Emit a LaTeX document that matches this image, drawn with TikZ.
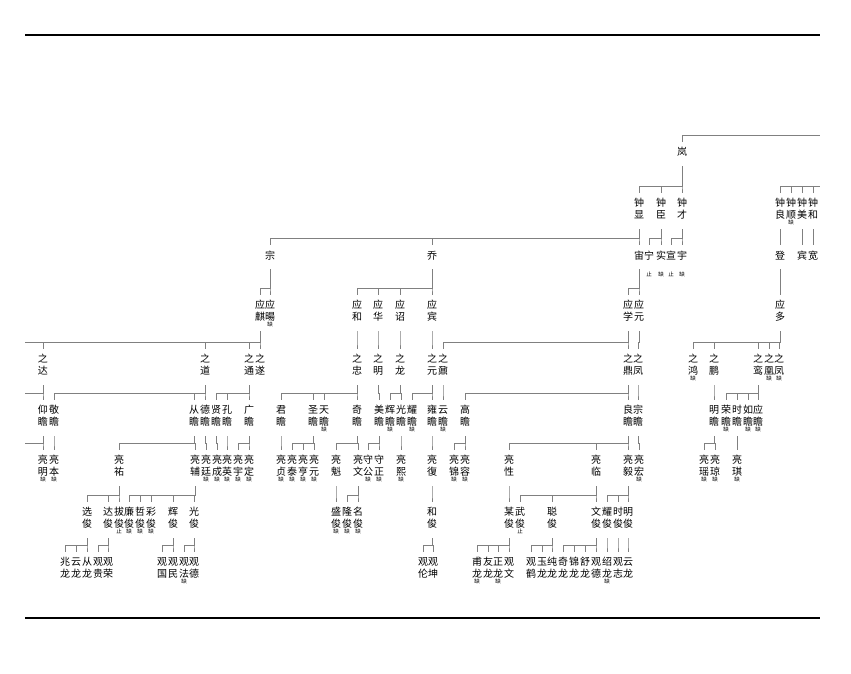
\documentclass[tikz,border=0pt]{standalone}
\usepackage{fontspec}
\newfontfamily\cjk{Noto Sans CJK SC}
\newcommand\nfnt{\fontsize{5.5}{6}\selectfont}
\newcommand\cjcell[1]{\hbox to 12pt{\hss\vrule height 10pt depth 2pt width 0pt\relax#1\hss}}
\newcommand\vtwo[3]{\vbox to 30pt{\offinterlineskip\cjcell{#1}\cjcell{#2}\hbox to 12pt{\hss\nfnt#3\hss}\vss}}
\newcommand\vone[1]{\vbox to 16pt{\offinterlineskip\cjcell{#1}\vss}}
\newcommand\TW[4]{\node[two] (#1) at (#2,#3) {\vtwo#4};}
\newcommand\ON[4]{\node[one] (#1) at (#2,#3) {\vone{#4}};}
\newcommand\kin[2]{\foreach \kidn in {#2}{\draw[conn] (#1.south) |- ([yshift=7pt]\kidn.north) -- (\kidn.north);}}
\tikzset{
  two/.style={inner sep=0pt, outer xsep=0pt, outer ysep=3pt, anchor=north, font=\cjk\fontsize{10}{12}\selectfont},
  one/.style={inner sep=0pt, outer xsep=0pt, outer ysep=4pt, anchor=north, font=\cjk\fontsize{10}{12}\selectfont},
  note/.style={inner sep=0pt, font=\cjk\nfnt},
  conn/.style={draw=black!50, line width=0.9pt},
  rule/.style={draw=black, line width=2pt}
}
\begin{document}
\begin{tikzpicture}[x=1pt,y=-1pt]
\useasboundingbox (0,0) rectangle (851,674);
\draw[rule] (25,35) -- (820,35);
\draw[rule] (25,618) -- (820,618);
% level 0
\ON{lan}{682}{142}{岚}
% level 1
\TW{zx}{639}{193}{{钟}{显}{}}
\TW{zc}{661}{193}{{钟}{臣}{}}
\TW{zcai}{682}{193}{{钟}{才}{}}
\TW{zl}{780}{193}{{钟}{良}{}}
\TW{zs}{791}{193}{{钟}{顺}{缺}}
\TW{zm}{802}{193}{{钟}{美}{}}
\TW{zh}{813}{193}{{钟}{和}{}}
% level 2
\ON{zong}{270}{245}{宗}
\ON{qiao}{432}{245}{乔}
\ON{zhou}{639}{245}{宙}
\ON{ning}{649}{245}{宁}
\ON{shi}{661}{245}{实}
\ON{xuan}{671}{245}{宣}
\ON{yu}{682}{245}{宇}
\ON{deng}{780}{245}{登}
\ON{bin}{802}{245}{宾}
\ON{kuan}{813}{245}{宽}
\node[note] (nning) at ([yshift=-5.5pt]ning.south) {止};
\node[note] (nshi) at ([yshift=-5.5pt]shi.south) {缺};
\node[note] (nxuan) at ([yshift=-5.5pt]xuan.south) {止};
\node[note] (nyu) at ([yshift=-5.5pt]yu.south) {缺};
% level 3
\TW{yq}{260}{295}{{应}{麒}{}}
\TW{yy}{270}{295}{{应}{暘}{缺}}
\TW{yhe}{357}{295}{{应}{和}{}}
\TW{yhua}{378}{295}{{应}{华}{}}
\TW{yzhao}{400}{295}{{应}{诏}{}}
\TW{ybin}{432}{295}{{应}{宾}{}}
\TW{yxue}{628}{295}{{应}{学}{}}
\TW{yyuan}{639}{295}{{应}{元}{}}
\TW{yduo}{780}{295}{{应}{多}{}}
% level 4
\TW{zda}{43}{349}{{之}{达}{}}
\TW{zdao}{205}{349}{{之}{道}{}}
\TW{ztong}{249}{349}{{之}{通}{}}
\TW{zsui}{260}{349}{{之}{遂}{}}
\TW{zzhong}{357}{349}{{之}{忠}{}}
\TW{zming}{378}{349}{{之}{明}{}}
\TW{zlong}{400}{349}{{之}{龙}{}}
\TW{zyuan}{432}{349}{{之}{元}{}}
\TW{zhe}{443}{349}{{之}{鼐}{}}
\TW{zding}{628}{349}{{之}{鼎}{}}
\TW{zfeng}{638}{349}{{之}{凤}{}}
\TW{zhong}{693}{349}{{之}{鸿}{缺}}
\TW{zpeng}{714}{349}{{之}{鹏}{}}
\TW{zluan}{758}{349}{{之}{鸾}{}}
\TW{zhuang}{769}{349}{{之}{凰}{缺}}
\TW{zfengb}{779}{349}{{之}{凤}{缺}}
% level 5
\TW{yang}{43}{400}{{仰}{瞻}{}}
\TW{jing}{54}{400}{{敬}{瞻}{}}
\TW{cong}{194}{400}{{从}{瞻}{}}
\TW{de}{205}{400}{{德}{瞻}{}}
\TW{xian}{216}{400}{{贤}{瞻}{}}
\TW{kong}{227}{400}{{孔}{瞻}{}}
\TW{guang}{249}{400}{{广}{瞻}{}}
\TW{jun}{281}{400}{{君}{瞻}{}}
\TW{sheng}{313}{400}{{圣}{瞻}{}}
\TW{tian}{324}{400}{{天}{瞻}{缺}}
\TW{qi}{357}{400}{{奇}{瞻}{}}
\TW{mei}{379}{400}{{美}{瞻}{}}
\TW{hui}{390}{400}{{辉}{瞻}{缺}}
\TW{gz}{401}{400}{{光}{瞻}{}}
\TW{yao}{412}{400}{{耀}{瞻}{缺}}
\TW{yong}{432}{400}{{雍}{瞻}{}}
\TW{yun}{443}{400}{{云}{瞻}{缺}}
\TW{gao}{465}{400}{{高}{瞻}{}}
\TW{liang}{628}{400}{{良}{瞻}{}}
\TW{zz}{638}{400}{{宗}{瞻}{}}
\TW{mz}{714}{400}{{明}{瞻}{}}
\TW{rong}{726}{400}{{荣}{瞻}{缺}}
\TW{sz}{737}{400}{{时}{瞻}{}}
\TW{ru}{748}{400}{{如}{瞻}{缺}}
\TW{yz}{758}{400}{{应}{瞻}{缺}}
% level 6
\TW{lming}{43}{450}{{亮}{明}{缺}}
\TW{lben}{54}{450}{{亮}{本}{缺}}
\TW{lyou}{119}{450}{{亮}{祐}{}}
\TW{lfu}{195}{450}{{亮}{辅}{}}
\TW{lting}{206}{450}{{亮}{廷}{缺}}
\TW{lcheng}{217}{450}{{亮}{成}{缺}}
\TW{lying}{227}{450}{{亮}{英}{缺}}
\TW{lyu}{238}{450}{{亮}{宇}{缺}}
\TW{lding}{249}{450}{{亮}{定}{缺}}
\TW{lzhen}{281}{450}{{亮}{贞}{缺}}
\TW{ltai}{292}{450}{{亮}{泰}{缺}}
\TW{lheng}{303}{450}{{亮}{亨}{缺}}
\TW{lyuan}{314}{450}{{亮}{元}{缺}}
\TW{lkui}{336}{450}{{亮}{魁}{}}
\TW{lwen}{358}{450}{{亮}{文}{}}
\TW{sgong}{368}{450}{{守}{公}{缺}}
\TW{szheng}{379}{450}{{守}{正}{缺}}
\TW{lxi}{401}{450}{{亮}{熙}{缺}}
\TW{lfuu}{432}{450}{{亮}{復}{}}
\TW{ljin}{454}{450}{{亮}{锦}{缺}}
\TW{lrong}{465}{450}{{亮}{容}{缺}}
\TW{lxing}{509}{450}{{亮}{性}{}}
\TW{llin}{596}{450}{{亮}{临}{}}
\TW{lyi}{628}{450}{{亮}{毅}{}}
\TW{lhong}{639}{450}{{亮}{宏}{缺}}
\TW{lyao}{704}{450}{{亮}{瑶}{缺}}
\TW{lqiong}{715}{450}{{亮}{琼}{缺}}
\TW{lqi}{737}{450}{{亮}{琪}{缺}}
% level 7
\TW{xuanj}{87}{502}{{选}{俊}{}}
\TW{daj}{108}{502}{{达}{俊}{}}
\TW{baj}{119}{502}{{拔}{俊}{止}}
\TW{lianj}{129}{502}{{廉}{俊}{缺}}
\TW{zhej}{140}{502}{{哲}{俊}{缺}}
\TW{caij}{151}{502}{{彩}{俊}{缺}}
\TW{huij}{173}{502}{{辉}{俊}{}}
\TW{gj}{194}{502}{{光}{俊}{}}
\TW{shengj}{336}{502}{{盛}{俊}{缺}}
\TW{longj}{347}{502}{{隆}{俊}{缺}}
\TW{mingj}{358}{502}{{名}{俊}{缺}}
\TW{hej}{432}{502}{{和}{俊}{}}
\TW{mouj}{509}{502}{{某}{俊}{}}
\TW{wuj}{520}{502}{{武}{俊}{止}}
\TW{congj}{552}{502}{{聪}{俊}{}}
\TW{wenj}{596}{502}{{文}{俊}{}}
\TW{yaoj}{607}{502}{{耀}{俊}{}}
\TW{shij}{618}{502}{{时}{俊}{}}
\TW{mjj}{628}{502}{{明}{俊}{}}
% level 8
\TW{zhaol}{65}{552}{{兆}{龙}{}}
\TW{yunl}{76}{552}{{云}{龙}{}}
\TW{congl}{87}{552}{{从}{龙}{}}
\TW{ggui}{98}{552}{{观}{贵}{}}
\TW{grong}{108}{552}{{观}{荣}{}}
\TW{gguo}{162}{552}{{观}{国}{}}
\TW{gmin}{173}{552}{{观}{民}{}}
\TW{gfa}{184}{552}{{观}{法}{缺}}
\TW{gde}{194}{552}{{观}{德}{}}
\TW{glun}{423}{552}{{观}{伦}{}}
\TW{gkun}{433}{552}{{观}{坤}{}}
\TW{ful}{477}{552}{{甫}{龙}{缺}}
\TW{youl}{488}{552}{{友}{龙}{}}
\TW{zhengl}{498}{552}{{正}{龙}{缺}}
\TW{gwen}{509}{552}{{观}{文}{}}
\TW{ghe}{531}{552}{{观}{鹤}{}}
\TW{yul}{542}{552}{{玉}{龙}{}}
\TW{chunl}{552}{552}{{纯}{龙}{}}
\TW{qil}{563}{552}{{奇}{龙}{}}
\TW{jinl}{574}{552}{{锦}{龙}{}}
\TW{shul}{585}{552}{{舒}{龙}{}}
\TW{gdeb}{596}{552}{{观}{德}{}}
\TW{shaol}{607}{552}{{绍}{龙}{缺}}
\TW{gzhi}{618}{552}{{观}{志}{}}
\TW{yunlb}{628}{552}{{云}{龙}{}}
% off-picture ends
\coordinate (eR0) at (820,135);
\coordinate (eR1) at (820,186);
\coordinate (eL4) at (25,342);
\coordinate (eL5) at (25,393);
\coordinate (eL6) at (25,443);
\draw[conn] (lan.north) |- (eR0);
\foreach \kidn in {zl,zs,zm,zh}{\draw[conn] (\kidn.north) |- (eR1);}
\draw[conn] (yq.south) |- (eL4);
\draw[conn] (zda.south) |- (eL5);
\draw[conn] (yang.south) |- (eL6);
% families
\kin{lan}{zx,zc,zcai}
\kin{zx}{zong,qiao,zhou}
\kin{zc}{ning,shi}
\kin{zcai}{xuan,yu}
\kin{zl}{deng}
\kin{zm}{bin}
\kin{zh}{kuan}
\kin{zong}{yq,yy}
\kin{qiao}{yhe,yhua,yzhao,ybin}
\kin{zhou}{yxue,yyuan}
\kin{deng}{yduo}
\kin{yq}{zda,zdao,ztong,zsui}
\kin{yhe}{zzhong}
\kin{yhua}{zming}
\kin{yzhao}{zlong}
\kin{ybin}{zyuan}
\kin{yxue}{zhe,zding}
\kin{yyuan}{zfeng}
\kin{yduo}{zhong,zpeng,zluan,zhuang,zfengb}
\kin{zda}{yang}
\kin{zdao}{jing,cong,de}
\kin{ztong}{xian,kong,guang}
\kin{zzhong}{jun,sheng,tian,qi}
\kin{zming}{mei}
\kin{zlong}{hui,gz}
\kin{zyuan}{yao,yong}
\kin{zhe}{yun}
\kin{zding}{gao,liang}
\kin{zfeng}{zz}
\kin{zpeng}{mz}
\kin{zluan}{rong,sz,ru,yz}
\kin{yang}{lming}
\kin{jing}{lben}
\kin{cong}{lyou,lfu}
\kin{de}{lting}
\kin{xian}{lcheng}
\kin{kong}{lying}
\kin{guang}{lyu,lding}
\kin{jun}{lzhen}
\kin{sheng}{ltai,lheng,lyuan}
\kin{qi}{lkui,lwen}
\kin{mei}{sgong,szheng}
\kin{gz}{lxi}
\kin{yong}{lfuu}
\kin{gao}{ljin,lrong}
\kin{liang}{lxing,llin,lyi}
\kin{zz}{lhong}
\kin{mz}{lyao,lqiong}
\kin{sz}{lqi}
\kin{lyou}{xuanj,daj,baj}
\kin{lfu}{lianj,zhej,caij,huij,gj}
\kin{lkui}{shengj}
\kin{lwen}{longj,mingj}
\kin{lfuu}{hej}
\kin{lxing}{mouj}
\kin{llin}{wuj,congj,wenj}
\kin{lyi}{yaoj,shij,mjj}
\kin{xuanj}{zhaol,yunl,congl}
\kin{daj}{ggui,grong}
\kin{huij}{gguo,gmin}
\kin{gj}{gfa,gde}
\kin{hej}{glun,gkun}
\kin{mouj}{ful,youl,zhengl,gwen}
\kin{congj}{ghe,yul,chunl}
\kin{wenj}{qil,jinl,shul,gdeb}
\kin{yaoj}{shaol}
\kin{shij}{gzhi}
\kin{mjj}{yunlb}
\end{tikzpicture}
\end{document}
